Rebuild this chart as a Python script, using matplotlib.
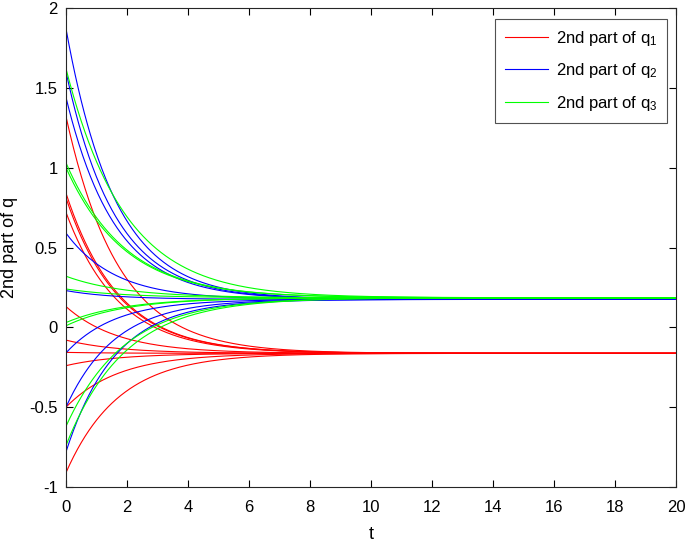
import numpy as np
import matplotlib
matplotlib.use("Agg")
import matplotlib.pyplot as plt

plt.rcParams['font.family'] = ['Liberation Sans', 'DejaVu Sans']
plt.rcParams['mathtext.fontset'] = 'custom'
plt.rcParams['mathtext.rm'] = 'Liberation Sans'
plt.rcParams['mathtext.it'] = 'Liberation Sans'

# Initial values read at t=0
q1_init = [1.32, 0.84, 0.81, 0.72, 0.13, -0.08, -0.157, -0.24, -0.50, -0.91]
q2_init = [1.87, 1.60, 1.44, 0.59, 0.23, -0.16, -0.50, -0.78]
q3_init = [1.62, 1.03, 1.00, 0.32, 0.24, 0.03, 0.01, -0.62, -0.74]
# Steady-state values read at t=20
q1_final = -0.163
q2_final = 0.175
q3_final = 0.185
# Convergence rates (1/time)
q1_rate = 0.58
q2_rate = 0.62
q3_rate = 0.52

t = np.linspace(0, 20, 801)

fig = plt.figure(figsize=(6.85, 5.43), dpi=100)
ax = fig.add_axes([66/685, 1-487/543, (676-66)/685, (487-8)/543])

series = [(q1_init, q1_final, q1_rate, (1, 0, 0), r'2nd part of q$_{1}$'),
          (q2_init, q2_final, q2_rate, (0, 0, 1), r'2nd part of q$_{2}$'),
          (q3_init, q3_final, q3_rate, (0, 1, 0), r'2nd part of q$_{3}$')]

handles = []
for inits, fin, k, col, lab in series:
    for i, q0 in enumerate(inits):
        y = fin + (q0 - fin) * np.exp(-k * t)
        ln, = ax.plot(t, y, color=col, lw=0.8, label=lab if i == 0 else None)
        if i == 0:
            handles.append(ln)

ax.set_xlim(0, 20)
ax.set_ylim(-1, 2)
ax.set_xticks(np.arange(0, 21, 2))
ax.set_yticks([-1, -0.5, 0, 0.5, 1, 1.5, 2])
ax.set_yticklabels(['-1', '-0.5', '0', '0.5', '1', '1.5', '2'])
ax.tick_params(direction='in', length=5, width=0.8, labelsize=12, pad=6,
               top=True, right=True, colors='black')
ax.tick_params(axis='x', pad=9)
for s in ax.spines.values():
    s.set_linewidth(0.8)
    s.set_color('#262626')
ax.set_xlabel('t', fontsize=13, labelpad=8)
ax.set_ylabel('2nd part of q', fontsize=13, labelpad=8)

leg = ax.legend(handles=handles, loc='upper right', fontsize=12, frameon=True,
                fancybox=False, edgecolor='#262626', handlelength=2.6,
                bbox_to_anchor=(667/685, 1-19/543), bbox_transform=fig.transFigure,
                borderaxespad=0, labelspacing=0.8, borderpad=0.6, handletextpad=0.45)
leg.get_frame().set_linewidth(0.8)

fig.savefig('out.png', dpi=100)
